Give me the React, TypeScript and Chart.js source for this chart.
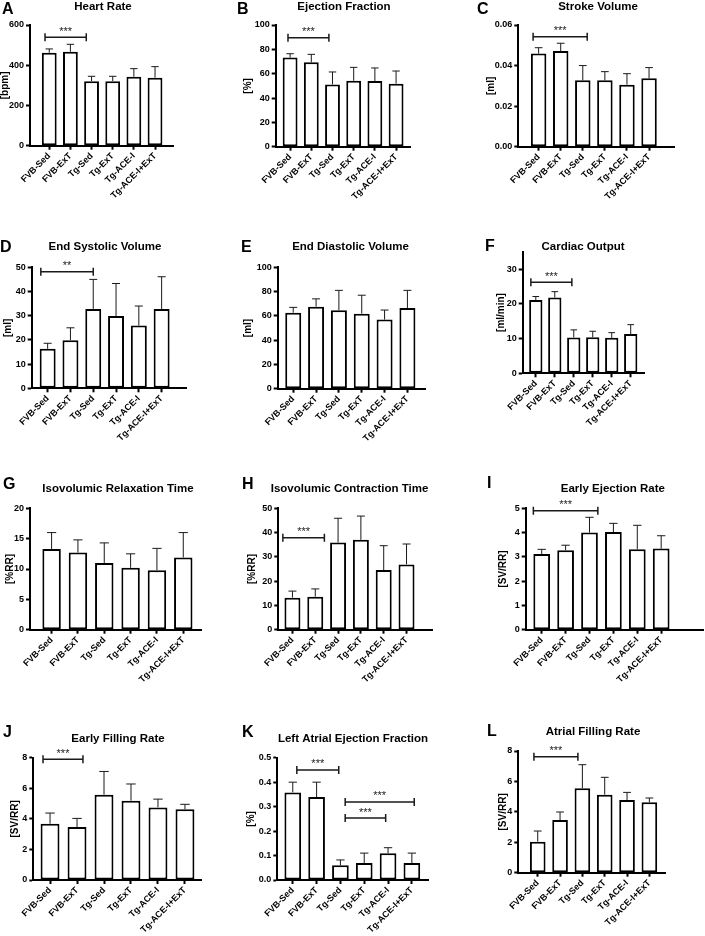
import React, { useEffect, useRef } from "react";
import { Chart, registerables } from "chart.js";

Chart.register(...registerables);

const FONT = "'Liberation Sans', Arial, Helvetica, sans-serif";

// ---- categories ----
const groups = ["FVB-Sed", "FVB-ExT", "Tg-Sed", "Tg-ExT", "Tg-ACE-I", "Tg-ACE-I+ExT"];

// ---- series values (mean, SD) ----
const hrMean = [462, 467, 321, 321, 343, 338];
const hrSd = [19, 37, 24, 24, 40, 55];
const efMean = [73.2, 69.3, 51.2, 54.2, 54.0, 51.8];
const efSd = [3.2, 6.6, 10.2, 11.0, 10.7, 10.4];
const svMean = [0.0459, 0.0472, 0.0327, 0.0327, 0.0306, 0.0337];
const svSd = [0.0029, 0.0038, 0.0073, 0.0043, 0.0054, 0.0053];
const esvMean = [16.3, 19.9, 32.8, 29.9, 25.9, 32.8];
const esvSd = [2.3, 5.1, 12.2, 13.4, 8.1, 13.3];
const edvMean = [62.6, 67.6, 64.6, 61.8, 56.9, 66.5];
const edvSd = [4.4, 6.4, 16.4, 15.2, 7.9, 14.5];
const coMean = [21.1, 21.8, 10.3, 10.4, 10.2, 11.3];
const coSd = [1.0, 1.7, 2.2, 1.7, 1.5, 2.7];
const ivrtMean = [13.3, 12.7, 11.0, 10.2, 9.8, 11.9];
const ivrtSd = [2.7, 2.1, 3.3, 2.3, 3.6, 4.1];
const ivctMean = [13.2, 13.6, 35.9, 37.0, 24.6, 26.9];
const ivctSd = [2.7, 3.2, 10.0, 9.8, 10.0, 8.4];
const eerMean = [3.12, 3.27, 4.0, 4.02, 3.31, 3.34];
const eerSd = [0.19, 0.21, 0.63, 0.36, 0.99, 0.53];
const efrMean = [3.68, 3.46, 5.58, 5.19, 4.75, 4.62];
const efrSd = [0.7, 0.57, 1.52, 1.09, 0.54, 0.33];
const laefMean = [0.358, 0.339, 0.06, 0.069, 0.109, 0.069];
const laefSd = [0.042, 0.061, 0.022, 0.041, 0.023, 0.041];
const afrMean = [2.04, 3.46, 5.55, 5.13, 4.78, 4.63];
const afrSd = [0.7, 0.53, 1.55, 1.14, 0.5, 0.28];

// ---- y tick labels ----
const hrTicks = [0, 200, 400, 600];
const efTicks = [0, 20, 40, 60, 80, 100];
const svTicks = [0, 0.02, 0.04, 0.06];
const esvTicks = [0, 10, 20, 30, 40, 50];
const edvTicks = [0, 20, 40, 60, 80, 100];
const coTicks = [0, 10, 20, 30];
const ivrtTicks = [0, 5, 10, 15, 20];
const ivctTicks = [0, 10, 20, 30, 40, 50];
const eerTicks = [0, 1, 2, 3, 4, 5];
const efrTicks = [0, 2, 4, 6, 8];
const laefTicks = [0, 0.1, 0.2, 0.3, 0.4, 0.5];
const afrTicks = [0, 2, 4, 6, 8];

// ---- significance brackets (x span in group units, level in data units) ----
const hrSig = [{ from: -0.2, to: 1.75, y: 539, label: "***" }];
const efSig = [{ from: -0.1, to: 1.83, y: 89.6, label: "***" }];
const svSig = [{ from: -0.25, to: 2.2, y: 0.0542, label: "***" }];
const esvSig = [{ from: -0.3, to: 2.0, y: 48.2, label: "**" }];
const coSig = [{ from: -0.26, to: 1.9, y: 26.2, label: "***" }];
const ivctSig = [{ from: -0.42, to: 1.4, y: 37.9, label: "***" }];
const eerSig = [{ from: -0.35, to: 2.35, y: 4.9, label: "***" }];
const efrSig = [{ from: -0.26, to: 1.22, y: 7.9, label: "***" }];
const laefSig = [
  { from: 0.17, to: 1.93, y: 0.45, label: "***" },
  { from: 2.2, to: 5.1, y: 0.319, label: "***" },
  { from: 2.2, to: 3.9, y: 0.253, label: "***" },
];
const afrSig = [{ from: -0.17, to: 1.8, y: 7.63, label: "***" }];

const colLeft = [0, 235, 470];
const rowTop = [0, 230, 465, 700];
const rowH = [230, 235, 235, 236];

type PanelCfg = {
  letter: string; title: string; yLabel: string;
  mean: number[]; sd: number[]; yTicks: number[]; yMax: number; dec: number;
  sig: { from: number; to: number; y: number; label: string }[];
  col: number; row: number;
  axisX: number; top: number; zero: number; xEnd: number; yTitleX: number;
  letterX: number; letterY: number; titleX: number; titleY: number;
  xMin: number; xMax: number;
};

const panels: PanelCfg[] = [
  { letter: "A", title: "Heart Rate", yLabel: "[bpm]", mean: hrMean, sd: hrSd, yTicks: hrTicks, yMax: 600, dec: 0, sig: hrSig,
    col: 0, row: 0, axisX: 30, top: 25, zero: 145.7, xEnd: 173, yTitleX: 5, letterX: 2, letterY: 14, titleX: 103, titleY: 7, xMin: -0.91, xMax: 5.85 },
  { letter: "B", title: "Ejection Fraction", yLabel: "[%]", mean: efMean, sd: efSd, yTicks: efTicks, yMax: 100, dec: 0, sig: efSig,
    col: 1, row: 0, axisX: 40.7, top: 25, zero: 146.7, xEnd: 175.7, yTitleX: 13, letterX: 2, letterY: 14, titleX: 109, titleY: 7, xMin: -0.68, xMax: 5.69 },
  { letter: "C", title: "Stroke Volume", yLabel: "[ml]", mean: svMean, sd: svSd, yTicks: svTicks, yMax: 0.06, dec: 2, sig: svSig,
    col: 2, row: 0, axisX: 48.3, top: 25, zero: 146.7, xEnd: 204, yTitleX: 21.7, letterX: 7, letterY: 14, titleX: 128, titleY: 7, xMin: -0.92, xMax: 6.13 },
  { letter: "D", title: "End Systolic Volume", yLabel: "[ml]", mean: esvMean, sd: esvSd, yTicks: esvTicks, yMax: 50, dec: 0, sig: esvSig,
    col: 0, row: 1, axisX: 31.7, top: 37.3, zero: 158.3, xEnd: 186.7, yTitleX: 8.3, letterX: 0, letterY: 21.7, titleX: 105, titleY: 17.3, xMin: -0.7, xMax: 6.1 },
  { letter: "E", title: "End Diastolic Volume", yLabel: "[ml]", mean: edvMean, sd: edvSd, yTicks: edvTicks, yMax: 100, dec: 0, sig: [],
    col: 1, row: 1, axisX: 42.7, top: 37.3, zero: 158.7, xEnd: 190, yTitleX: 13.3, letterX: 6, letterY: 21.7, titleX: 115.5, titleY: 17.3, xMin: -0.68, xMax: 5.77 },
  { letter: "F", title: "Cardiac Output", yLabel: "[ml/min]", mean: coMean, sd: coSd, yTicks: coTicks, yMax: 35, dec: 0, sig: coSig,
    col: 2, row: 1, axisX: 52.7, top: 21.7, zero: 143.3, xEnd: 174, yTitleX: 31.7, letterX: 15, letterY: 20.7, titleX: 113, titleY: 17.3, xMin: -0.69, xMax: 5.7 },
  { letter: "G", title: "Isovolumic Relaxation Time", yLabel: "[%RR]", mean: ivrtMean, sd: ivrtSd, yTicks: ivrtTicks, yMax: 20, dec: 0, sig: [],
    col: 0, row: 2, axisX: 30, top: 43.3, zero: 164.7, xEnd: 201.7, yTitleX: 10, letterX: 3, letterY: 24, titleX: 118, titleY: 24, xMin: -0.82, xMax: 5.7 },
  { letter: "H", title: "Isovolumic Contraction Time", yLabel: "[%RR]", mean: ivctMean, sd: ivctSd, yTicks: ivctTicks, yMax: 50, dec: 0, sig: ivctSig,
    col: 1, row: 2, axisX: 43.3, top: 43.3, zero: 164.7, xEnd: 197.3, yTitleX: 17.3, letterX: 7, letterY: 24, titleX: 114.5, titleY: 24, xMin: -0.62, xMax: 6.13 },
  { letter: "I", title: "Early Ejection Rate", yLabel: "[SV/RR]", mean: eerMean, sd: eerSd, yTicks: eerTicks, yMax: 5, dec: 0, sig: eerSig,
    col: 2, row: 2, axisX: 55.7, top: 43.3, zero: 164.7, xEnd: 233, yTitleX: 33.3, letterX: 17, letterY: 23, titleX: 142.8, titleY: 24, xMin: -0.67, xMax: 6.75 },
  { letter: "J", title: "Early Filling Rate", yLabel: "[SV/RR]", mean: efrMean, sd: efrSd, yTicks: efrTicks, yMax: 8, dec: 0, sig: efrSig,
    col: 0, row: 3, axisX: 33.3, top: 57.7, zero: 180, xEnd: 201.7, yTitleX: 15, letterX: 3, letterY: 37, titleX: 118, titleY: 39, xMin: -0.62, xMax: 5.62 },
  { letter: "K", title: "Left Atrial Ejection Fraction", yLabel: "[%]", mean: laefMean, sd: laefSd, yTicks: laefTicks, yMax: 0.5, dec: 1, sig: laefSig,
    col: 1, row: 3, axisX: 42.3, top: 57.7, zero: 180, xEnd: 193.3, yTitleX: 16.7, letterX: 7, letterY: 37, titleX: 118, titleY: 38.7, xMin: -0.65, xMax: 5.69 },
  { letter: "L", title: "Atrial Filling Rate", yLabel: "[SV/RR]", mean: afrMean, sd: afrSd, yTicks: afrTicks, yMax: 8, dec: 0, sig: afrSig,
    col: 2, row: 3, axisX: 48.3, top: 51, zero: 172.7, xEnd: 195, yTitleX: 33.3, letterX: 17, letterY: 36, titleX: 123, titleY: 32, xMin: -0.87, xMax: 5.7 },
];

const decorPlugin = {
  id: "decor",
  afterDraw(chart: any, _args: any, opts: any) {
    const { ctx } = chart;
    const xs = chart.scales.x;
    const ys = chart.scales.y;
    const meta = chart.getDatasetMeta(0);
    const cfg: PanelCfg = opts.cfg;
    ctx.save();
    // error bars (upper SD)
    ctx.strokeStyle = "#1a1a1a";
    ctx.lineWidth = 1;
    cfg.mean.forEach((m, i) => {
      const el = meta.data[i];
      if (!el) return;
      const x = el.x;
      const y0 = ys.getPixelForValue(m);
      const y1 = ys.getPixelForValue(m + cfg.sd[i]);
      const half = el.width * 0.25;
      ctx.beginPath();
      ctx.moveTo(x, y0);
      ctx.lineTo(x, y1);
      ctx.moveTo(x - half, y1);
      ctx.lineTo(x + half, y1);
      ctx.stroke();
    });
    // significance brackets
    cfg.sig.forEach((s) => {
      const x1 = xs.getPixelForValue(s.from);
      const x2 = xs.getPixelForValue(s.to);
      const y = ys.getPixelForValue(s.y);
      ctx.strokeStyle = "#1a1a1a";
      ctx.lineWidth = 1.5;
      ctx.beginPath();
      ctx.moveTo(x1, y);
      ctx.lineTo(x2, y);
      ctx.moveTo(x1, y - 4);
      ctx.lineTo(x1, y + 4);
      ctx.moveTo(x2, y - 4);
      ctx.lineTo(x2, y + 4);
      ctx.stroke();
      ctx.fillStyle = "#1a1a1a";
      ctx.font = `11px ${FONT}`;
      ctx.textAlign = "center";
      ctx.textBaseline = "alphabetic";
      ctx.fillText(s.label, (x1 + x2) / 2, y - 2.5);
    });
    // panel letter and title
    ctx.fillStyle = "#000";
    ctx.font = `bold 16px ${FONT}`;
    ctx.textAlign = "left";
    ctx.textBaseline = "alphabetic";
    ctx.fillText(cfg.letter, cfg.letterX, cfg.letterY);
    ctx.font = `bold 11.5px ${FONT}`;
    ctx.textAlign = "center";
    ctx.textBaseline = "middle";
    ctx.fillText(cfg.title, cfg.titleX, cfg.titleY);
    ctx.restore();
  },
};

function Panel({ cfg }: { cfg: PanelCfg }) {
  const ref = useRef<HTMLCanvasElement>(null);
  const w = 235;
  const h = rowH[cfg.row];
  useEffect(() => {
    const canvas = ref.current;
    if (!canvas) return;
    const padLeft = Math.max(0, cfg.yTitleX - 5);
    const yWidth = cfg.axisX - padLeft;
    const xHeight = h - cfg.zero;
    const chart = new Chart(canvas, {
      type: "bar",
      data: {
        datasets: [
          {
            data: cfg.mean.map((v, i) => ({ x: i, y: v })),
            backgroundColor: "#ffffff",
            borderColor: "#000000",
            borderWidth: 2,
            borderSkipped: false,
            barPercentage: 0.7,
            categoryPercentage: 1,
          } as any,
        ],
      },
      options: {
        responsive: false,
        animation: false,
        devicePixelRatio: 1,
        events: [],
        layout: { padding: { left: padLeft, top: cfg.top, right: w - cfg.xEnd, bottom: 0 } },
        plugins: {
          legend: { display: false },
          tooltip: { enabled: false },
          title: { display: false },
          decor: { cfg },
        } as any,
        scales: {
          x: {
            type: "linear",
            min: cfg.xMin,
            max: cfg.xMax,
            bounds: "data",
            offset: false,
            afterBuildTicks: (s: any) => {
              s.ticks = groups.map((_, i) => ({ value: i }));
            },
            afterFit: (s: any) => {
              s.height = xHeight;
            },
            grid: {
              display: true,
              offset: false,
              drawOnChartArea: false,
              drawTicks: true,
              tickLength: 4,
              tickWidth: 2,
              tickColor: "#000",
            },
            border: { display: true, width: 2, color: "#000" },
            ticks: {
              autoSkip: false,
              minRotation: 45,
              maxRotation: 45,
              padding: 1,
              color: "#000",
              font: { family: FONT, size: 9, weight: "bold" },
              callback: (v: any) => groups[Math.round(Number(v))] ?? "",
            },
          } as any,
          y: {
            type: "linear",
            min: 0,
            max: cfg.yMax,
            bounds: "data",
            afterBuildTicks: (s: any) => {
              s.ticks = cfg.yTicks.map((v) => ({ value: v }));
            },
            afterFit: (s: any) => {
              s.width = yWidth;
            },
            grid: {
              display: true,
              drawOnChartArea: false,
              drawTicks: true,
              tickLength: 4,
              tickWidth: 2,
              tickColor: "#000",
            },
            border: { display: true, width: 2, color: "#000" },
            title: {
              display: true,
              text: cfg.yLabel,
              color: "#000",
              padding: 0,
              font: { family: FONT, size: 10, weight: "bold", lineHeight: 1 },
            },
            ticks: {
              padding: 2,
              color: "#000",
              font: { family: FONT, size: 9, weight: "bold" },
              callback: (v: any) => Number(v).toFixed(cfg.dec),
            },
          } as any,
        },
      },
      plugins: [decorPlugin as any],
    });
    return () => chart.destroy();
  }, []);
  return (
    <canvas
      ref={ref}
      width={w}
      height={h}
      style={{ position: "absolute", left: colLeft[cfg.col], top: rowTop[cfg.row], width: w, height: h }}
    />
  );
}

export default function App() {
  return (
    <div style={{ position: "absolute", left: 0, top: 0, width: 705, height: 936, background: "#fff", overflow: "hidden" }}>
      {panels.map((p) => (
        <Panel key={p.letter} cfg={p} />
      ))}
    </div>
  );
}
